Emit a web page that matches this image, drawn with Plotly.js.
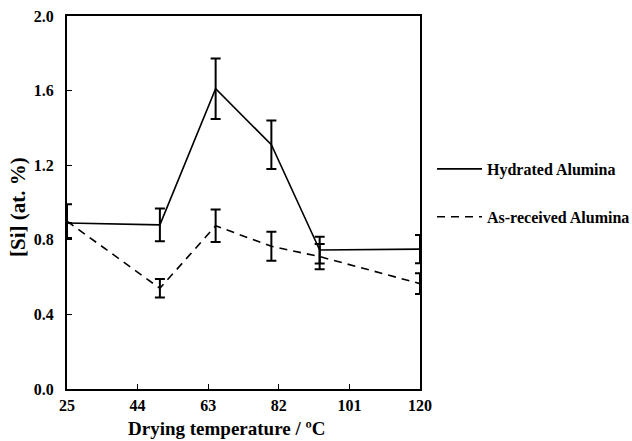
<!DOCTYPE html>
<html>
<head>
<meta charset="utf-8">
<script src="https://cdn.plot.ly/plotly-3.0.1.min.js"></script>
<style>html,body{margin:0;padding:0;background:#fff;}#chart{width:632px;height:441px;}</style>
</head>
<body>
<div id="chart"></div>
<script>
const temps = [25, 50, 65, 80, 93, 120];
const hydrated = [0.89, 0.88, 1.61, 1.31, 0.745, 0.75];
const hydratedErr = [0, 0.088, 0.162, 0.13, 0.072, 0.076];
const asReceived = [0.9, 0.54, 0.875, 0.765, 0.71, 0.565];
const asReceivedErr = [0.09, 0.05, 0.087, 0.078, 0.068, 0.055];
const xTicks = [25, 44, 63, 82, 101, 120];
const yTicks = [0.0, 0.4, 0.8, 1.2, 1.6, 2.0];
const seriesNames = ['Hydrated Alumina', 'As-received Alumina'];

const serif = 'Liberation Serif, Times New Roman, serif';

const traces = [
  {
    x: temps, y: hydrated, name: seriesNames[0], type: 'scatter', mode: 'lines',
    legendgroup: 'a', cliponaxis: false,
    line: {color: '#000', width: 1.6},
    error_y: {type: 'data', array: hydratedErr, visible: true, color: '#000', thickness: 2, width: 5}
  },
  {
    x: temps, y: asReceived, name: seriesNames[1], type: 'scatter', mode: 'lines',
    legendgroup: 'b', cliponaxis: false,
    line: {color: '#000', width: 1.6, dash: '8px,6px'},
    error_y: {type: 'data', array: asReceivedErr, visible: true, color: '#000', thickness: 2, width: 5}
  }
];

const layout = {
  width: 632, height: 441,
  margin: {l: 67, r: 212, t: 16, b: 52},
  paper_bgcolor: '#fff', plot_bgcolor: '#fff',
  showlegend: true,
  font: {family: serif, color: '#000'},
  xaxis: {
    range: [25, 120], tickvals: xTicks, ticktext: xTicks.map(String),
    ticks: 'inside', ticklen: 5, tickwidth: 1, tickcolor: '#000',
    showline: true, linecolor: '#000', linewidth: 2, mirror: true,
    showgrid: false, zeroline: false,
    tickfont: {family: serif, size: 16, weight: 'bold', color: '#000'},
    ticklabelstandoff: 1
  },
  yaxis: {
    range: [0, 2.0], tickvals: yTicks, ticktext: yTicks.map(v => v.toFixed(1)),
    ticks: 'inside', ticklen: 5, tickwidth: 1, tickcolor: '#000',
    showline: true, linecolor: '#000', linewidth: 2, mirror: true,
    showgrid: false, zeroline: false,
    tickfont: {family: serif, size: 16, weight: 'bold', color: '#000'},
    ticklabelstandoff: 8
  },
  legend: {
    xref: 'container', yref: 'container',
    x: 432 / 632, xanchor: 'left', y: 1 - 152 / 441, yanchor: 'top',
    font: {family: serif, size: 16, weight: 'bold', color: '#000'},
    itemwidth: 45,
    tracegroupgap: 24, bgcolor: 'rgba(0,0,0,0)', borderwidth: 0
  },
  annotations: [
    {text: 'Drying temperature / ºC', xref: 'paper', yref: 'paper', x: (226 - 67) / 353, y: 0, yshift: -39,
     xanchor: 'center', yanchor: 'middle', showarrow: false,
     font: {family: serif, size: 19, weight: 'bold', color: '#000'}},
    {text: '[Si] (at. %)', xref: 'paper', yref: 'paper', x: 0, xshift: -49, y: (389 - 207) / 373,
     xanchor: 'center', yanchor: 'middle', showarrow: false, textangle: -90,
     font: {family: serif, size: 21, weight: 'bold', color: '#000'}}
  ]
};

Plotly.newPlot('chart', traces, layout, {displayModeBar: false, staticPlot: true});
</script>
</body>
</html>
